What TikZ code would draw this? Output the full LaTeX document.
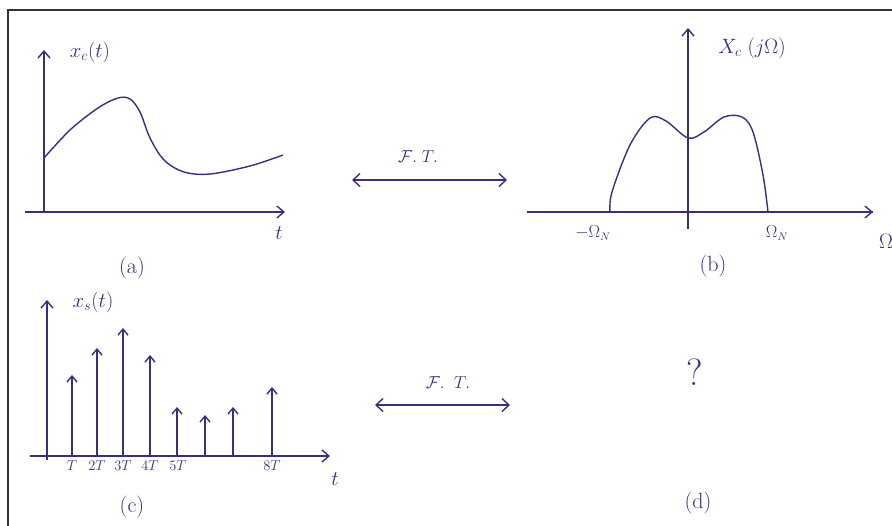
\documentclass[tikz,border=0pt]{standalone}
\usetikzlibrary{arrows.meta}
\definecolor{ink}{RGB}{52,50,128}
\begin{document}
\begin{tikzpicture}[x=1pt,y=-1pt,
  ink/.style={draw=ink,line width=1.4pt},
  axis/.style={ink,-{Straight Barb[length=7pt,width=12pt]}},
  stem/.style={ink,-{Straight Barb[length=6pt,width=10pt]}},
  ft/.style={ink,{Straight Barb[length=7pt,width=13pt]}-{Straight Barb[length=7pt,width=13pt]}},
  lbl/.style={text=ink,font=\fontsize{22}{26}\selectfont,inner sep=1pt},
  ftl/.style={text=ink,font=\fontsize{18}{22}\selectfont,inner sep=1pt},
  tick/.style={text=ink,font=\fontsize{14}{16}\selectfont,inner sep=1pt}]
\useasboundingbox (0,0) rectangle (892,526);
\fill[white] (0,0) rectangle (892,526);
% frame
\draw[black!80,line width=1.2pt] (8,526) -- (8,10) -- (892,10);

% (a)
\coordinate (ao) at (44,212);
\coordinate (ay) at (44,50);
\coordinate (ax) at (285,212);
\draw[ink] (25,212) -- (ao);
\draw[axis] (ao) -- (ay);
\draw[axis] (ao) -- (ax);
\node[lbl] (axlab) at (90,52) {$x_c(t)$};
\node[lbl] (at) at (279,233) {$t$};
\draw[ink] plot[smooth,tension=0.55] coordinates {(44,158) (70,130) (98,108) (118,98) (130,99) (140,112) (150,138) (164,160) (184,172) (210,174) (250,166) (283,155)};
\node[lbl] (a) at (132,268) {(a)};

% (b)
\coordinate (bo) at (688,212);
\coordinate (by) at (688,28);
\coordinate (bx) at (873,212);
\draw[ink] (527,212) -- (bx);
\draw[axis] (bo) -- (bx);
\draw[ink] (688,229) -- (bo);
\draw[axis] (bo) -- (by);
\node[lbl] (bylab) at (752,48) {$X_c\;(j\Omega)$};
\node[lbl] (bom) at (886,241) {$\Omega$};
\node[tick,font=\fontsize{16}{18}\selectfont] (bmn) at (593,233) {$-\Omega_N$};
\node[tick,font=\fontsize{16}{18}\selectfont] (bpn) at (777,233) {$\Omega_N$};
\draw[ink] plot[smooth,tension=0.55] coordinates {(610,212) (612,192) (630,145) (650,118) (666,121) (688,138) (704,132) (724,117) (742,117) (753,132) (763,175) (768,212)};
\node[lbl] (b) at (713,266) {(b)};

% F.T. arrows
\node (ftl1) at (352,180) {};
\node (ftr1) at (507,180) {};
\draw[ft] (ftl1.center) -- (ftr1.center);
\node[ftl] (ft1) at (418,157) {$\mathcal{F}.\;T.$};
\node (ftl2) at (375,405) {};
\node (ftr2) at (510,405) {};
\draw[ft] (ftl2.center) -- (ftr2.center);
\node[ftl] (ft2) at (448,383) {$\mathcal{F}.\;\;T.$};

% (c)
\coordinate (co) at (47,456);
\coordinate (cy) at (47,300);
\coordinate (cx) at (330,456);
\draw[ink] (30,456) -- (co);
\draw[ink] (47,460) -- (co);
\draw[axis] (co) -- (cy);
\draw[axis] (co) -- (cx);
\node[lbl] (cylab) at (93,302) {$x_s(t)$};
\node[lbl] (ct) at (335,479) {$t$};
\foreach \x/\h [count=\i] in {72/375,97/348,123/328,150/355,177/407,205/415,233/407,272/387}{
  \coordinate (s\i) at (\x,456);
  \coordinate (st\i) at (\x,\h);
  \draw[stem] (s\i) -- (st\i);
}
\node[tick] (t1) at (72,466) {$T$};
\node[tick] (t2) at (97,466) {$2T$};
\node[tick] (t3) at (123,466) {$3T$};
\node[tick] (t4) at (150,466) {$4T$};
\node[tick] (t5) at (178,466) {$5T$};
\node[tick] (t8) at (272,466) {$8T$};
\node[lbl] (c) at (132,507) {(c)};

% (d)
\node[lbl,font=\fontsize{38}{40}\selectfont] (q) at (695,372) {?};
\node[lbl] (d) at (698,503) {(d)};
\end{tikzpicture}
\end{document}
